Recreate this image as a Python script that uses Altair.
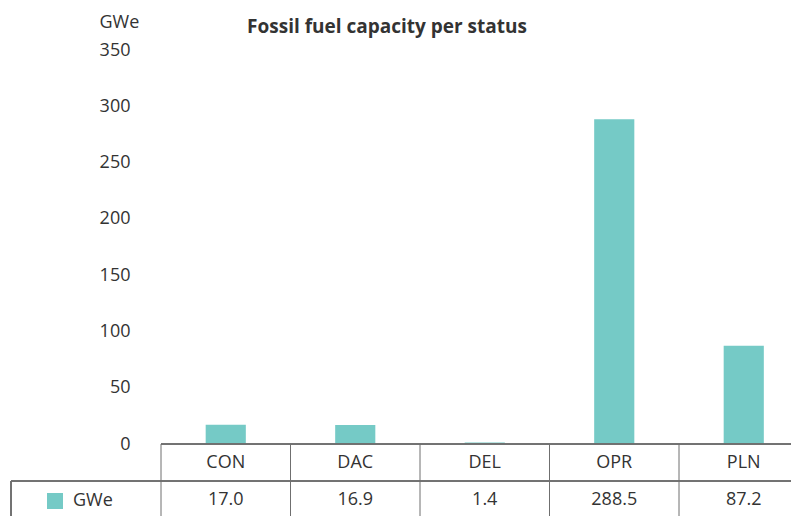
import altair as alt
import pandas as pd

statuses = ["CON", "DAC", "DEL", "OPR", "PLN"]
capacity = [17.0, 16.9, 1.4, 288.5, 87.2]
y_ticks = [0, 50, 100, 150, 200, 250, 300, 350]
series_name = "GWe"
title_text = "Fossil fuel capacity per status"

df = pd.DataFrame({"status": statuses, "capacity": capacity})

FONT = "Open Sans"
TXT = "#333333"
LINE = "#6f6f6f"
BAR = "#75CAC6"
W, H = 630, 394
STEP = 129.5

xscale = alt.Scale(domain=statuses, range=[0, STEP * len(statuses)],
                   paddingInner=0.69, paddingOuter=0.345)
xenc = alt.X("status:N", scale=xscale, axis=None, sort=statuses)

base = alt.Chart(df)

bars = base.mark_bar(color=BAR).encode(
    x=xenc,
    y=alt.Y("capacity:Q",
            scale=alt.Scale(domain=[0, 350], nice=False),
            axis=alt.Axis(values=y_ticks, grid=False, ticks=False, tickSize=0, domain=False,
                          labelPadding=31, labelFont=FONT, labelFontSize=18, labelColor=TXT,
                          title=series_name, titleAngle=0, titleX=-62, titleY=-28,
                          titleAlign="left", titleBaseline="middle", titleFont=FONT,
                          titleFontSize=18, titleFontWeight="normal", titleColor=TXT)),
)

# table grid
top_line = base.mark_rule(color=LINE, strokeWidth=1).encode(
    x=alt.value(0), x2=alt.value(W + 20), y=alt.value(H))
mid_line = base.mark_rule(color=LINE, strokeWidth=1).encode(
    x=alt.value(-150), x2=alt.value(W + 20), y=alt.value(H + 37))
left_line = base.mark_rule(color=LINE, strokeWidth=1).encode(
    x=alt.value(-150), y=alt.value(H + 37), y2=alt.value(H + 90))
vlines = base.mark_rule(color=LINE, strokeWidth=1, xOffset=-STEP / 2).encode(
    x=xenc, y=alt.value(H), y2=alt.value(H + 90))

cat_text = base.mark_text(font=FONT, fontSize=18, color=TXT, baseline="middle").encode(
    x=xenc, y=alt.value(H + 19), text="status:N")
val_text = base.mark_text(font=FONT, fontSize=18, color=TXT, baseline="middle").encode(
    x=xenc, y=alt.value(H + 56), text=alt.Text("capacity:Q", format=".1f"))

legend_df = pd.DataFrame({"name": [series_name]})
swatch = alt.Chart(legend_df).mark_rect(color=BAR).encode(
    x=alt.value(-114), x2=alt.value(-98), y=alt.value(H + 49), y2=alt.value(H + 65))
legend_text = alt.Chart(legend_df).mark_text(font=FONT, fontSize=18, color=TXT,
                                             align="left", baseline="middle").encode(
    x=alt.value(-88), y=alt.value(H + 57), text="name:N")

title_df = pd.DataFrame({"t": [title_text]})
title = alt.Chart(title_df).mark_text(font=FONT, fontSize=19, fontWeight="bold", color=TXT,
                                      align="center", baseline="alphabetic").encode(
    x=alt.value(226), y=alt.value(-17), text="t:N")

chart = alt.layer(bars, top_line, mid_line, left_line, vlines, cat_text, val_text,
                  swatch, legend_text, title).properties(
    width=W, height=H,
    autosize=alt.AutoSizeParams(type="none"),
    padding={"left": 153, "top": 42, "right": 0, "bottom": 72},
).configure_view(stroke=None)

chart.save("out.html", embed_options={"renderer": "svg", "actions": False})
